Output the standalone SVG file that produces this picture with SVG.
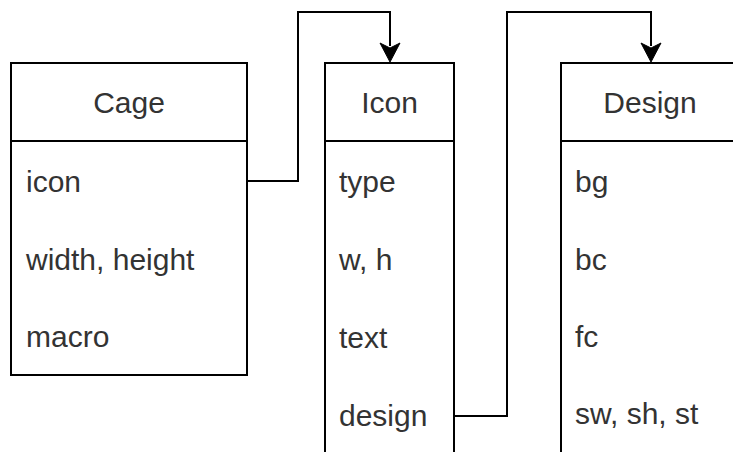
<svg xmlns="http://www.w3.org/2000/svg" width="733" height="452" viewBox="0 0 733 452">
<defs>
<style>
.box{fill:#fff;stroke:#000;stroke-width:2}
.div{stroke:#000;stroke-width:2}
.t{font-family:"Liberation Sans",Arial,sans-serif;font-size:30px;fill:#333}
.h{text-anchor:middle}
.edge{fill:none;stroke:#000;stroke-width:2}
.ah{fill:#000;stroke:#000;stroke-width:1}
</style>
</defs>
<rect width="733" height="452" fill="#fff"/>
<g id="cage">
<rect class="box" x="11" y="63" width="236" height="312"/>
<line class="div" x1="11" y1="141" x2="247" y2="141"/>
<text class="t h" x="129" y="113">Cage</text>
<text class="t" x="26" y="192">icon</text>
<text class="t" x="26" y="270">width, height</text>
<text class="t" x="26" y="347">macro</text>
</g>
<g id="icon">
<rect class="box" x="325" y="63" width="129" height="420"/>
<line class="div" x1="325" y1="141" x2="454" y2="141"/>
<text class="t h" x="389.5" y="113">Icon</text>
<text class="t" x="339" y="192">type</text>
<text class="t" x="339" y="270">w, h</text>
<text class="t" x="339" y="348">text</text>
<text class="t" x="339" y="426">design</text>
</g>
<g id="design">
<rect class="box" x="561" y="63" width="190" height="420"/>
<line class="div" x1="561" y1="141" x2="751" y2="141"/>
<text class="t h" x="650" y="113">Design</text>
<text class="t" x="575" y="192">bg</text>
<text class="t" x="575" y="270">bc</text>
<text class="t" x="575" y="347">fc</text>
<text class="t" x="575" y="424">sw, sh, st</text>
</g>
<g id="connectors">
<path class="edge" d="M247 181 H298 V12 H390 V46"/>
<polygon class="ah" points="390,62 380,43 390,48 400,43"/>
<path class="edge" d="M454 416 H507 V12 H651 V46"/>
<polygon class="ah" points="651,62 641,43 651,48 661,43"/>
</g>
</svg>
